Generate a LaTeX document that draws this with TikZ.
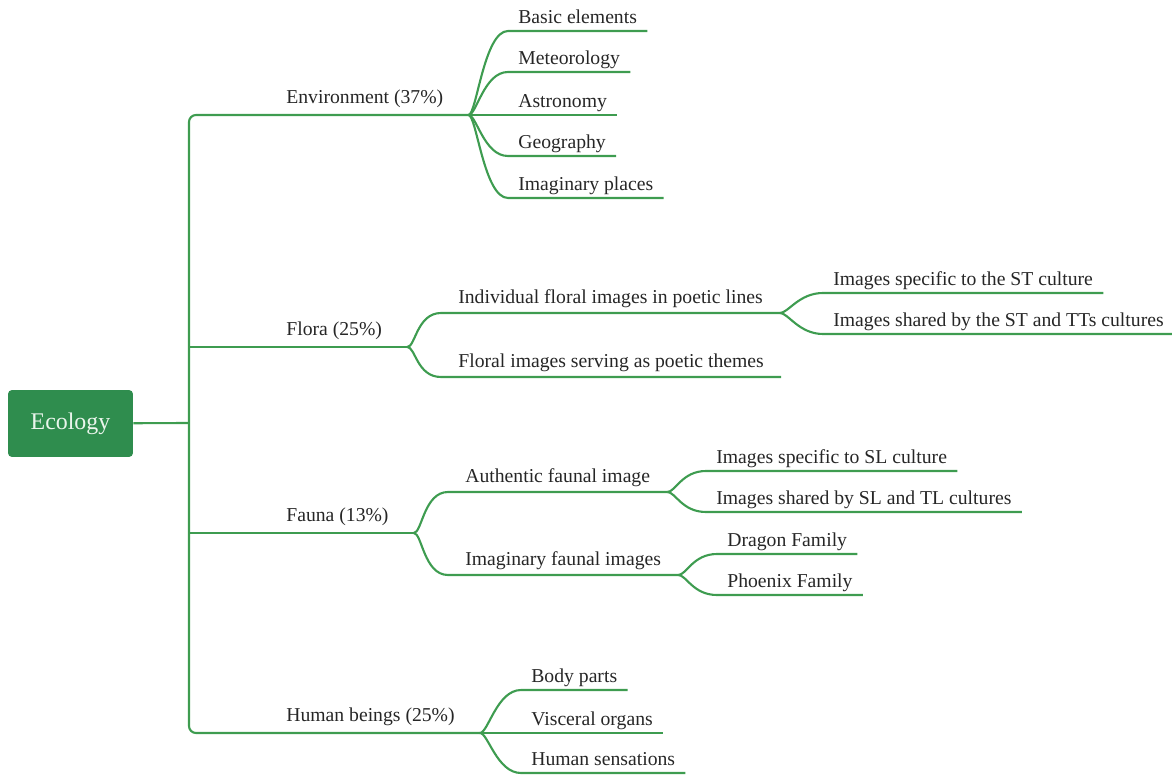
\documentclass[tikz,border=0pt]{standalone}
\usepackage{fontspec}
\setmainfont{Liberation Serif}
\usepackage{tikz}
\usetikzlibrary{positioning}
\definecolor{mapgreen}{HTML}{3E9C50}
\definecolor{rootgreen}{HTML}{2F8D4E}
\definecolor{roottext}{HTML}{EAF5EC}

\begin{document}
\begin{tikzpicture}[
    x=0.02cm, y=-0.02cm,
    font=\fontsize{11.2}{13}\selectfont,
    root/.style={
		rectangle,
		rounded corners=0.08cm,
		fill=rootgreen,
		text=roottext,
		minimum width=2.5cm,
		minimum height=1.34cm,
		font=\fontsize{13.6}{16}\selectfont
	},
	topic/.style={
		anchor=south west,
		inner xsep=0.5cm,
		inner ysep=0.14cm,
		text depth=0.25em,
		text=black!85
	},
	sub/.style={
		anchor=south west,
		inner xsep=0.34cm,
		inner ysep=0.1cm,
		text depth=0.25em,
		text=black!85
	},
	item/.style={
		anchor=south west,
		inner xsep=0.2cm,
		inner ysep=0.06cm,
		text depth=0.25em,
		text=black!85
	},
	link/.style={
		draw=mapgreen,
		line width=1.2pt
	},
	branch/.style={
		to path={.. controls +(8,0) and +(-24,0) .. (\tikztotarget)}
	}
  ]
  \useasboundingbox (0,0) rectangle (1172,776);

  % root and trunk
  \node [root] (eco) at (70.5,423.5) {Ecology};
  \coordinate (trunk) at (189,423);

  % main topics
  \node [topic] (env) at (261,115) {Environment (37\%)};
  \node [topic] (flora) at (261,347) {Flora (25\%)};
  \node [topic] (fauna) at (261,533) {Fauna (13\%)};
  \node [topic] (human) at (261,733) {Human beings (25\%)};

  % environment
  \node [item] (basic) at (508,31) {Basic elements};
  \node [item] (meteo) at (508,72) {Meteorology};
  \node [item] (astro) at (508,115) {Astronomy};
  \node [item] (geo) at (508,156) {Geography};
  \node [item] (places) at (508,198) {Imaginary places};

  % flora
  \node [sub] (lines) at (441,313) {Individual floral images in poetic lines};
  \node [sub] (themes) at (441,377) {Floral images serving as poetic themes};
  \node [item] (stspec) at (823,293) {Images specific to the ST culture};
  \node [item] (stshared) at (823,334) {Images shared by the ST and TTs cultures};

  % fauna
  \node [sub] (authentic) at (448,492) {Authentic faunal image};
  \node [sub] (imaginary) at (448,575) {Imaginary faunal images};
  \node [item] (slspec) at (706,471) {Images specific to SL culture};
  \node [item] (slshared) at (706,512) {Images shared by SL and TL cultures};
  \node [item] (dragon) at (717,554) {Dragon Family};
  \node [item] (phoenix) at (717,595) {Phoenix Family};

  % human beings
  \node [item] (body) at (521,690) {Body parts};
  \node [item] (visceral) at (521,733) {Visceral organs};
  \node [item] (senses) at (521,773) {Human sensations};

  % connectors
  \draw [link] (eco) -- (trunk);
  \draw [link, rounded corners=0.14cm] (env.south east) -| (trunk) |- (human.south east);
  \draw [link] (trunk |- flora.south east) -- (flora.south east);
  \draw [link] (trunk |- fauna.south east) -- (fauna.south east);

  \foreach \leaf in {basic,meteo,astro,geo,places}
    \draw [link] (env.south east) to[branch] (\leaf.south west) -- (\leaf.south east);
  \foreach \leaf in {lines,themes}
    \draw [link] (flora.south east) to[branch] (\leaf.south west) -- (\leaf.south east);
  \foreach \leaf in {stspec,stshared}
    \draw [link] (lines.south east) to[branch] (\leaf.south west) -- (\leaf.south east);
  \foreach \leaf in {authentic,imaginary}
    \draw [link] (fauna.south east) to[branch] (\leaf.south west) -- (\leaf.south east);
  \foreach \leaf in {slspec,slshared}
    \draw [link] (authentic.south east) to[branch] (\leaf.south west) -- (\leaf.south east);
  \foreach \leaf in {dragon,phoenix}
    \draw [link] (imaginary.south east) to[branch] (\leaf.south west) -- (\leaf.south east);
  \foreach \leaf in {body,visceral,senses}
    \draw [link] (human.south east) to[branch] (\leaf.south west) -- (\leaf.south east);

\end{tikzpicture}
\end{document}
